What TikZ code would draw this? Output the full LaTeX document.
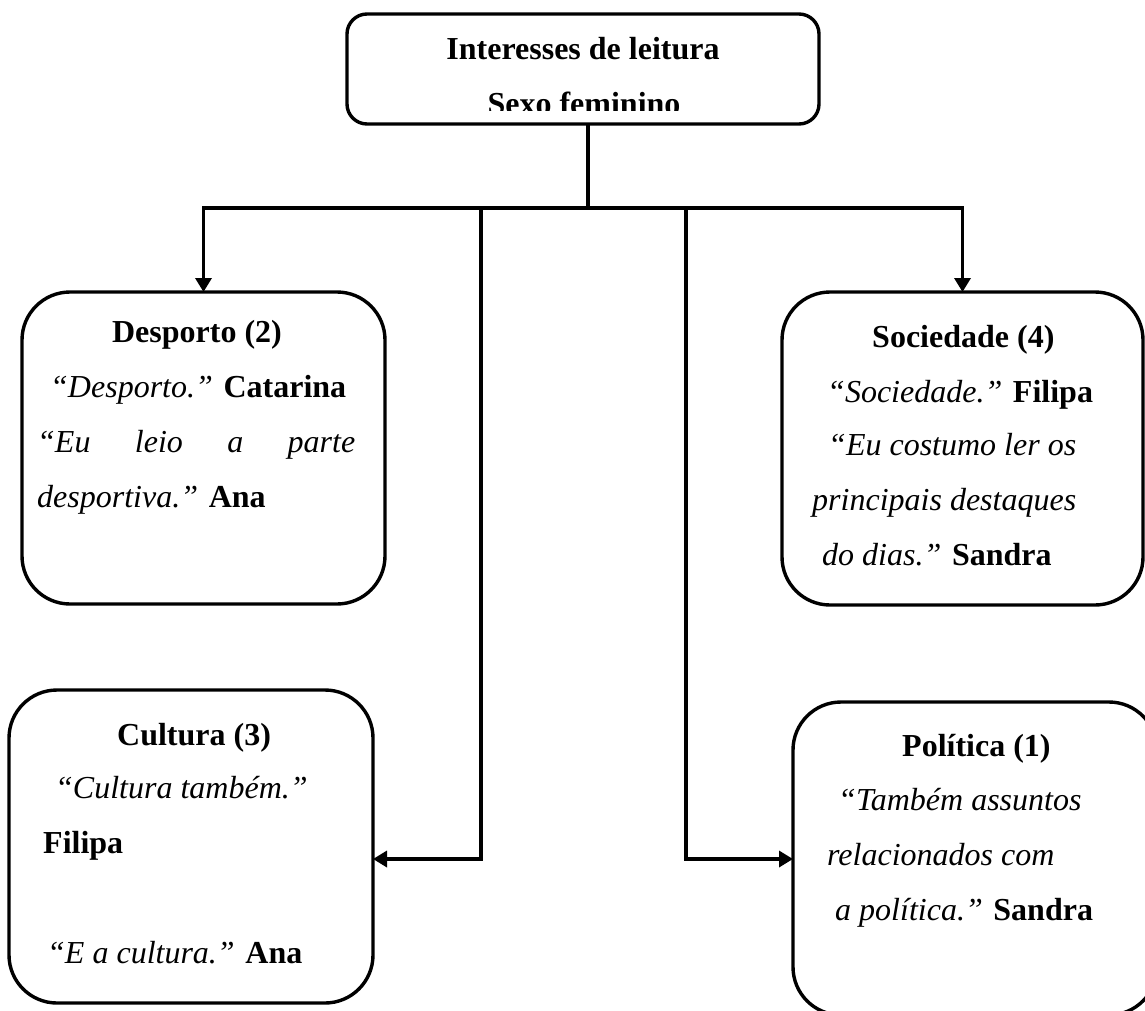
\documentclass[tikz,border=0pt]{standalone}
\usepackage{fontspec}
\setmainfont{Liberation Serif}
\usetikzlibrary{arrows.meta}
\begin{document}
\begin{tikzpicture}[x=1pt,y=-1pt,
  box/.style={draw, line width=3.4pt, rounded corners=48pt, inner sep=0pt, outer sep=0pt},
  topbox/.style={draw, line width=3.4pt, rounded corners=20pt, inner sep=0pt, outer sep=0pt},
  conn/.style={line width=3.4pt},
  arr/.style={line width=3.4pt, -{Triangle[length=14pt,width=16pt]}},
  txt/.style={anchor=base west, inner sep=0pt, font=\fontsize{32}{38}\selectfont},
  ctxt/.style={anchor=base, inner sep=0pt, font=\fontsize{32}{38}\selectfont}]
\clip (0,0) rectangle (1145,1010);
\fill[white] (0,0) rectangle (1145,1010);

% boxes
\node[topbox, minimum width=472pt, minimum height=110pt] (top) at (583,69) {};
\node[box, minimum width=363pt, minimum height=312pt] (desp) at (203.5,448) {};
\node[box, minimum width=361pt, minimum height=313pt] (soc) at (962.5,448.5) {};
\node[box, minimum width=364pt, minimum height=313pt] (cult) at (191,846.5) {};
\node[box, minimum width=364pt, minimum height=313pt] (pol) at (975,858.5) {};

% title text
\node[ctxt] (t0) at (583,59) {\textbf{Interesses de leitura}};
\begin{scope}
  \clip (350,14) rectangle (816,110);
  \node[ctxt] (t0b) at (584,114) {\textbf{Sexo feminino}};
\end{scope}

% Desporto
\node[ctxt] (d1) at (197,342) {\textbf{Desporto (2)}};
\node[txt] (d2) at (50,397) {\textit{“Desporto.”} \textbf{Catarina}};
\node[txt] (d3) at (37,452) {\hbox to 318pt{\itshape “Eu\hfill leio\hfill a\hfill parte}};
\node[txt] (d4) at (37,507) {\textit{desportiva.”} \textbf{Ana}};

% Sociedade
\node[txt] (s1) at (872,347) {\textbf{Sociedade (4)}};
\node[txt] (s2) at (827,402) {\textit{“Sociedade.”} \textbf{Filipa}};
\node[txt] (s3) at (828,455) {\textit{“Eu costumo ler os}};
\node[txt] (s4) at (812,510) {\textit{principais destaques}};
\node[txt] (s5) at (822,565) {\textit{do dias.”} \textbf{Sandra}};

% Cultura
\node[txt] (c1) at (117,745) {\textbf{Cultura (3)}};
\node[txt] (c2) at (55,798) {\textit{“Cultura também.”}};
\node[txt] (c3) at (43,853) {\textbf{Filipa}};
\node[txt] (c4) at (47,963) {\textit{“E a cultura.”} \textbf{Ana}};

% Politica
\node[txt] (p1) at (902,756) {\textbf{Política (1)}};
\node[txt] (p2) at (838,810) {\textit{“Também assuntos}};
\node[txt] (p3) at (827,865) {\textit{relacionados com}};
\node[txt] (p4) at (835,920) {\textit{a política.”} \textbf{Sandra}};

% connectors
\coordinate (j) at (588,208);
\coordinate (bl) at (481,208);
\coordinate (blc) at (481,859);
\coordinate (br) at (686,208);
\coordinate (brc) at (686,859);
\draw[conn] (j |- top.south) -- (j);
\draw[arr] (j) -| (desp.north);
\draw[arr] (j) -| (soc.north);
\draw[arr] (bl) -- (blc) -- (blc -| cult.east);
\draw[arr] (br) -- (brc) -- (brc -| pol.west);
\end{tikzpicture}
\end{document}
